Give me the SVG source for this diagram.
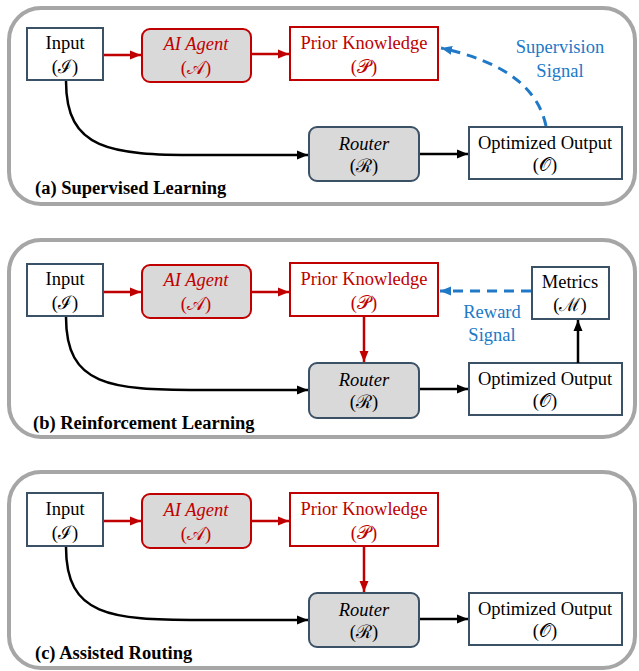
<svg xmlns="http://www.w3.org/2000/svg" width="639" height="671" viewBox="0 0 639 671" font-family="'Liberation Serif', 'Times New Roman', 'DejaVu Serif', serif">
<style>
.panel{fill:#fff;stroke:#a6a6a6;stroke-width:4}
.box{fill:#fff;stroke:#3b5166;stroke-width:2}
.rbox{fill:#fff;stroke:#c00000;stroke-width:2}
.agent{fill:#d9d9d9;stroke:#c00000;stroke-width:2}
.router{fill:#d9d9d9;stroke:#3b5166;stroke-width:2}
text{font-family:'Liberation Serif','Times New Roman','DejaVu Serif',serif;font-size:18.5px;text-anchor:middle;fill:#000}
.red{fill:#c00000}
.it{font-style:italic}
.blue{fill:#2079c7}
.lbl{font-weight:bold;text-anchor:start}
.k{stroke:#000;stroke-width:2.5;fill:none}
.r{stroke:#c00000;stroke-width:2.5;fill:none}
.b{stroke:#2079c7;stroke-width:3;fill:none;stroke-dasharray:10 7}
</style>
<defs>
<marker id="ak" markerUnits="userSpaceOnUse" markerWidth="12" markerHeight="12" refX="11" refY="6" orient="auto"><path d="M0,1.5 L11,6 L0,10.5 Z" fill="#000"/></marker>
<marker id="ar" markerUnits="userSpaceOnUse" markerWidth="12" markerHeight="12" refX="11" refY="6" orient="auto"><path d="M0,1.5 L11,6 L0,10.5 Z" fill="#c00000"/></marker>
<marker id="ab" markerUnits="userSpaceOnUse" markerWidth="12" markerHeight="12" refX="11" refY="6" orient="auto"><path d="M0,1.5 L11,6 L0,10.5 Z" fill="#2079c7"/></marker>
</defs>

<!-- Panel (a) -->
<g id="panel-a">
<rect class="panel" x="9" y="8" width="626" height="196" rx="32"/>
<text class="lbl" x="35" y="194">(a) Supervised Learning</text>
</g>
<g id="a-input"><rect class="box" x="27" y="28" width="76" height="52"/><text x="65" y="49">Input</text><text x="65" y="73">(ℐ)</text></g>
<g id="a-agent"><rect class="agent" x="142" y="29" width="109" height="53" rx="8"/><text class="red it" x="196" y="50">AI Agent</text><text class="red" x="196" y="74">(𝒜)</text></g>
<g id="a-prior"><rect class="rbox" x="290" y="27" width="148" height="53"/><text class="red" x="364" y="49">Prior Knowledge</text><text class="red" x="364" y="73">(𝒫)</text></g>
<g id="a-router"><rect class="router" x="309" y="127" width="110" height="54" rx="8"/><text class="it" x="364" y="150">Router</text><text x="364" y="172">(ℛ)</text></g>
<g id="a-output"><rect class="box" x="469" y="127" width="153" height="52"/><text x="545" y="149">Optimized Output</text><text x="545" y="171">(𝒪)</text></g>
<g id="a-signal"><text class="blue" x="560" y="53">Supervision</text><text class="blue" x="560" y="77">Signal</text></g>

<!-- Panel (b) -->
<g id="panel-b">
<rect class="panel" x="9" y="240" width="626" height="197" rx="32"/>
<text class="lbl" x="33" y="429">(b) Reinforcement Learning</text>
</g>
<g id="b-input"><rect class="box" x="27" y="264" width="76" height="52"/><text x="65" y="285">Input</text><text x="65" y="309">(ℐ)</text></g>
<g id="b-agent"><rect class="agent" x="142" y="265" width="109" height="53" rx="8"/><text class="red it" x="196" y="286">AI Agent</text><text class="red" x="196" y="310">(𝒜)</text></g>
<g id="b-prior"><rect class="rbox" x="290" y="263" width="148" height="53"/><text class="red" x="364" y="285">Prior Knowledge</text><text class="red" x="364" y="309">(𝒫)</text></g>
<g id="b-router"><rect class="router" x="309" y="363" width="110" height="55" rx="8"/><text class="it" x="364" y="386">Router</text><text x="364" y="408">(ℛ)</text></g>
<g id="b-output"><rect class="box" x="469" y="363" width="153" height="52"/><text x="545" y="385">Optimized Output</text><text x="545" y="407">(𝒪)</text></g>
<g id="b-metrics"><rect class="box" x="532" y="267" width="77" height="52"/><text x="570" y="288">Metrics</text><text x="570" y="311">(ℳ)</text></g>
<g id="b-signal"><text class="blue" x="492" y="318">Reward</text><text class="blue" x="492" y="341">Signal</text></g>

<!-- Panel (c) -->
<g id="panel-c">
<rect class="panel" x="9" y="472" width="626" height="196" rx="32"/>
<text class="lbl" x="35" y="659">(c) Assisted Routing</text>
</g>
<g id="c-input"><rect class="box" x="27" y="493" width="76" height="53"/><text x="65" y="515">Input</text><text x="65" y="539">(ℐ)</text></g>
<g id="c-agent"><rect class="agent" x="142" y="494" width="109" height="54" rx="8"/><text class="red it" x="196" y="516">AI Agent</text><text class="red" x="196" y="540">(𝒜)</text></g>
<g id="c-prior"><rect class="rbox" x="290" y="493" width="148" height="53"/><text class="red" x="364" y="515">Prior Knowledge</text><text class="red" x="364" y="539">(𝒫)</text></g>
<g id="c-router"><rect class="router" x="309" y="593" width="110" height="54" rx="8"/><text class="it" x="364" y="616">Router</text><text x="364" y="638">(ℛ)</text></g>
<g id="c-output"><rect class="box" x="469" y="593" width="153" height="52"/><text x="545" y="615">Optimized Output</text><text x="545" y="637">(𝒪)</text></g>

<!-- Connectors -->
<g id="connectors">
<path class="r" d="M104,55 L141,55" marker-end="url(#ar)"/>
<path class="r" d="M252,54 L289,54" marker-end="url(#ar)"/>
<path class="k" d="M66,81 C66,150 110,155 200,155 L308,155" marker-end="url(#ak)"/>
<path class="k" d="M420,154 L468,154" marker-end="url(#ak)"/>
<path class="b" d="M546,126 C538,88 505,62 441,48" marker-end="url(#ab)"/>

<path class="r" d="M104,292 L141,292" marker-end="url(#ar)"/>
<path class="r" d="M252,292 L289,292" marker-end="url(#ar)"/>
<path class="k" d="M66,317 C66,386 110,390 200,390 L308,390" marker-end="url(#ak)"/>
<path class="r" d="M364,317 L364,362" marker-end="url(#ar)"/>
<path class="k" d="M420,389 L468,389" marker-end="url(#ak)"/>
<path class="k" d="M578,363 L578,320" marker-end="url(#ak)"/>
<path class="b" d="M531,291 L440,291" marker-end="url(#ab)"/>

<path class="r" d="M104,521 L141,521" marker-end="url(#ar)"/>
<path class="r" d="M252,521 L289,521" marker-end="url(#ar)"/>
<path class="k" d="M66,547 C66,616 110,620 200,620 L308,620" marker-end="url(#ak)"/>
<path class="r" d="M364,547 L364,592" marker-end="url(#ar)"/>
<path class="k" d="M420,619 L468,619" marker-end="url(#ak)"/>
</g>
</svg>
